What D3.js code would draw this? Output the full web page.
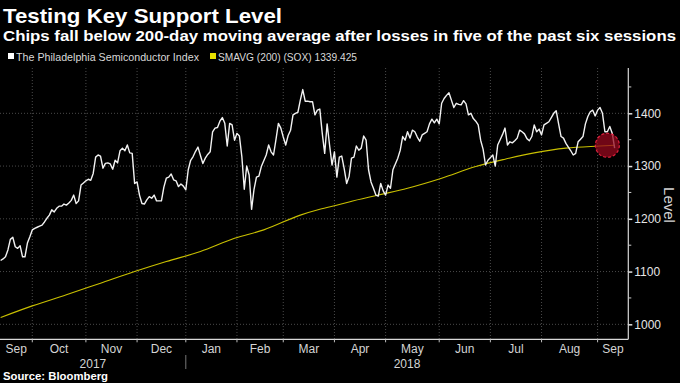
<!DOCTYPE html>
<html><head><meta charset="utf-8">
<script src="https://cdn.jsdelivr.net/npm/d3@7"></script>
<style>
html,body{margin:0;padding:0;background:#000;}
svg{display:block;}
</style></head>
<body>
<svg id="chart" width="680" height="383"></svg>
<script>
// ---------- data ----------
const startDate = "2017-09-13";
const calendarEnd = "2018-09-21";
const holidays = ["2017-11-23","2017-12-25","2018-01-01","2018-01-15","2018-02-19","2018-03-30","2018-05-28","2018-07-04","2018-09-03"];
// Philadelphia Semiconductor Index, daily closes from startDate (trading days)
const sox = [
1121,1124,1128,1141,1161,1165,1147,1144,1149,1128,1128,1154,1166,1179,1182,1184,1186,1188,1194,1201,
1207,1217,1213,1220,1224,1224,1228,1226,1230,1235,1245,1229,1234,1264,1268,1272,1275,1273,1286,1317,
1321,1319,1296,1305,1306,1304,1294,1311,1306,1329,1334,1329,1340,1325,1324,1267,1270,1245,1229,1228,
1236,1242,1239,1245,1234,1234,1234,1260,1277,1279,1285,1274,1272,1261,1266,1262,1255,1293,1311,1318,
1328,1336,1320,1305,1315,1322,1327,1365,1372,1373,1385,1392,1381,1338,1381,1378,1349,1362,1357,1318,
1256,1300,1283,1218,1256,1279,1281,1299,1310,1321,1340,1327,1321,1350,1381,1372,1355,1340,1358,1368,
1397,1400,1402,1425,1445,1423,1423,1422,1422,1397,1406,1408,1362,1324,1380,1340,1302,1327,1279,1317,
1319,1295,1267,1280,1315,1317,1338,1330,1334,1357,1349,1293,1270,1258,1245,1243,1267,1253,1245,1264,
1258,1293,1304,1315,1330,1356,1349,1365,1353,1368,1365,1355,1347,1359,1362,1365,1380,1389,1382,1389,
1380,1419,1428,1434,1439,1425,1411,1419,1417,1416,1424,1418,1397,1400,1390,1385,1378,1349,1332,1302,
1311,1316,1321,1300,1340,1350,1360,1372,1340,1346,1344,1348,1353,1368,1365,1361,1352,1348,1356,1378,
1365,1370,1359,1378,1381,1384,1392,1400,1405,1380,1356,1353,1343,1336,1329,1321,1324,1346,1351,1356,
1380,1394,1403,1406,1395,1406,1411,1400,1365,1365,1375,1362,1334
];
// 200-day simple moving average, read at these dates
const smaDates = ["2017-09-13","2017-10-02","2017-10-20","2017-11-09","2017-11-30","2017-12-19","2018-01-10","2018-01-31","2018-02-16","2018-03-12","2018-03-22","2018-04-04","2018-04-10","2018-04-26","2018-05-14","2018-06-04","2018-06-22","2018-07-11","2018-07-27","2018-08-15","2018-09-05","2018-09-13"];
const smaValues = [1013,1035,1056,1078,1100,1119,1138,1163,1179,1207,1218,1227,1232,1245,1258,1277,1299,1313,1325,1334,1338,1339.425];
const highlightDate = "2018-09-10";
const monthLabels = ["Sep","Oct","Nov","Dec","Jan","Feb","Mar","Apr","May","Jun","Jul","Aug","Sep"];
const yearLabels = ["2017","2018"];
const yTicks = [1000,1100,1200,1300,1400];
const yMinorTicks = [1050,1150,1250,1350,1450];
const legendLabels = ["The Philadelphia Semiconductor Index","SMAVG (200) (SOX) 1339.425"];
const titleText = "Testing Key Support Level";
const subtitleText = "Chips fall below 200-day moving average after losses in five of the past six sessions";
const sourceText = "Source: Bloomberg";
const yAxisTitle = "Level";

// ---------- trading calendar ----------
const fmt = d3.utcFormat("%Y-%m-%d");
const parse = d3.utcParse("%Y-%m-%d");
const tradingDays = d3.utcDay.range(parse(startDate), d3.utcDay.offset(parse(calendarEnd),1))
  .filter(d => d.getUTCDay() >= 1 && d.getUTCDay() <= 5 && !holidays.includes(fmt(d)));
const idxOf = new Map(tradingDays.map((d,i)=>[fmt(d), i]));

// ---------- layout ----------
const W = 680, H = 383;
const plotL = 0, plotR = 628.3, plotT = 68, plotB = 339.3;
const svg = d3.select("#chart");
svg.append("rect").attr("width",W).attr("height",H).attr("fill","#000");

const x = d3.scaleLinear().domain([-0.25, idxOf.get("2018-09-20") + 0.6]).range([plotL, plotR]);
const y = d3.scaleLinear().domain([971.6, 1485.9]).range([plotB, plotT]);

const FONT = "'Liberation Sans', Arial, sans-serif";

// gridlines
const g = svg.append("g");
g.selectAll("line.hg").data(yTicks).join("line")
  .attr("x1", plotL).attr("x2", plotR)
  .attr("y1", d=>y(d)).attr("y2", d=>y(d))
  .attr("stroke","#4a4a4a").attr("stroke-width",1).attr("stroke-dasharray","1,2");

// month boundaries: first trading day of each month after the first
const monthStarts = [];
tradingDays.forEach((d,i)=>{
  if (i>0 && d.getUTCMonth() !== tradingDays[i-1].getUTCMonth()) monthStarts.push(i);
});
g.selectAll("line.vg").data(monthStarts).join("line")
  .attr("x1", d=>x(d)).attr("x2", d=>x(d))
  .attr("y1", plotT).attr("y2", plotB)
  .attr("stroke","#4a4a4a").attr("stroke-width",1).attr("stroke-dasharray","1,2");

// SMA line
const smaData = smaDates.map((d,i)=>({i: idxOf.get(d), v: smaValues[i]}));
svg.append("path").datum(smaData)
  .attr("fill","none").attr("stroke","#c9c000").attr("stroke-width",1.1)
  .attr("d", d3.line().x(d=>x(d.i)).y(d=>y(d.v)).curve(d3.curveMonotoneX));

// SOX line
svg.append("path").datum(sox)
  .attr("fill","none").attr("stroke","#f2f2f2").attr("stroke-width",1.4)
  .attr("stroke-linejoin","round")
  .attr("d", d3.line().x((d,i)=>x(i)).y(d=>y(d)));

// highlight circle
svg.append("circle")
  .attr("cx", x(idxOf.get(highlightDate))).attr("cy", y(smaValues[smaValues.length-1]))
  .attr("r", 12)
  .attr("fill","rgba(150,8,30,0.75)")
  .attr("stroke","#e0203c").attr("stroke-width",1.2).attr("stroke-dasharray","3,2");

// axes lines
svg.append("line").attr("x1",plotL).attr("x2",plotR).attr("y1",plotB).attr("y2",plotB)
  .attr("stroke","#d8d8d8").attr("stroke-width",1.2);
svg.append("line").attr("x1",plotR).attr("x2",plotR).attr("y1",plotT).attr("y2",plotB)
  .attr("stroke","#d8d8d8").attr("stroke-width",1.2);

// y axis ticks
const yAxis = d3.axisRight(y).tickValues(yTicks).tickFormat(d3.format("d")).tickSize(4).tickPadding(2);
const ya = svg.append("g").attr("transform",`translate(${plotR},0)`).call(yAxis);
ya.select(".domain").remove();
ya.selectAll(".tick line").attr("stroke","#e0e0e0").attr("stroke-width",1.5);
ya.selectAll(".tick text").attr("fill","#e6e6e6").attr("font-family",FONT).attr("font-size",12);
svg.selectAll("line.ymin").data(yMinorTicks).join("line")
  .attr("x1",plotR).attr("x2",plotR+3).attr("y1",d=>y(d)).attr("y2",d=>y(d))
  .attr("stroke","#cfcfcf").attr("stroke-width",1);

// x axis ticks
svg.selectAll("line.xt").data(monthStarts).join("line")
  .attr("x1",d=>x(d)).attr("x2",d=>x(d)).attr("y1",plotB).attr("y2",plotB+3)
  .attr("stroke","#bdbdbd").attr("stroke-width",1);

// month labels centered in month interval
const bounds = [plotL, ...monthStarts.map(d=>x(d)), plotR];
svg.selectAll("text.mon").data(monthLabels).join("text")
  .attr("x",(d,i)=>(bounds[i]+bounds[i+1])/2).attr("y",353)
  .attr("text-anchor","middle").attr("fill","#d4d4d4")
  .attr("font-family",FONT).attr("font-size",12).text(d=>d);

// year labels
const janIdx = monthStarts.find(i => tradingDays[i].getUTCMonth() === 0);
const yearBounds = [[plotL, x(janIdx)], [x(janIdx), plotR]];
svg.selectAll("text.yr").data(yearLabels).join("text")
  .attr("x",(d,i)=>(yearBounds[i][0]+yearBounds[i][1])/2).attr("y",367.5)
  .attr("text-anchor","middle").attr("fill","#d4d4d4")
  .attr("font-family",FONT).attr("font-size",12).text(d=>d);
svg.append("line").attr("x1",x(janIdx)).attr("x2",x(janIdx)).attr("y1",355).attr("y2",369)
  .attr("stroke","#777").attr("stroke-width",1);

// y axis title
svg.append("text").attr("transform","translate(664,205) rotate(90)")
  .attr("text-anchor","middle").attr("fill","#d4d4d4")
  .attr("font-family",FONT).attr("font-size",15).text(yAxisTitle);

// titles
svg.append("text").attr("x",3).attr("y",23).attr("fill","#fff")
  .attr("font-family",FONT).attr("font-weight","bold").attr("font-size",21)
  .attr("textLength",279).attr("lengthAdjust","spacingAndGlyphs").text(titleText);
svg.append("text").attr("x",3).attr("y",41).attr("fill","#fff")
  .attr("font-family",FONT).attr("font-weight","bold").attr("font-size",15)
  .attr("textLength",673).attr("lengthAdjust","spacingAndGlyphs").text(subtitleText);

// legend
const legColors = ["#ffffff","#e6e000"];
const legX = [8, 210];
const legW = [183, 139];
legendLabels.forEach((t,i)=>{
  svg.append("rect").attr("x",legX[i]).attr("y",53).attr("width",6).attr("height",6).attr("fill",legColors[i]);
  svg.append("text").attr("x",legX[i]+8).attr("y",60.5).attr("fill","#d8d8d8")
    .attr("font-family",FONT).attr("font-size",10.5)
    .attr("textLength",legW[i]).attr("lengthAdjust","spacingAndGlyphs").text(t);
});

// source
svg.append("text").attr("x",3).attr("y",380).attr("fill","#fff")
  .attr("font-family",FONT).attr("font-weight","bold").attr("font-size",10.5)
  .attr("textLength",105).attr("lengthAdjust","spacingAndGlyphs").text(sourceText);
</script>
</body></html>
